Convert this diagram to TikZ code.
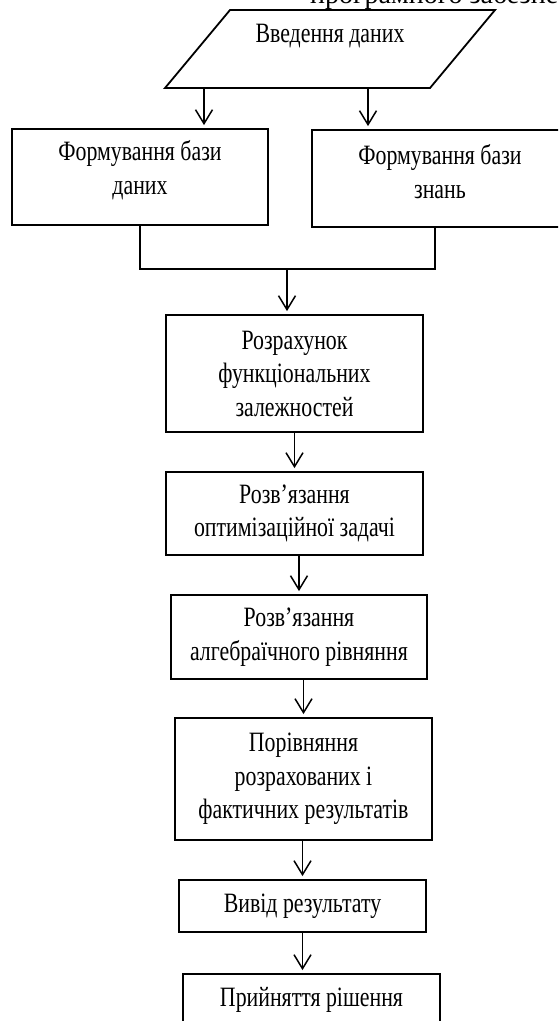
\documentclass[tikz,border=0pt]{standalone}
\usepackage{fontspec}
\setmainfont[FakeStretch=0.78]{Liberation Serif}
\newfontfamily\capfont{Liberation Serif}
\usetikzlibrary{arrows.meta}
\begin{document}
\begin{tikzpicture}[x=1pt,y=-1pt,
  box/.style={draw,line width=1.8pt,inner sep=0pt},
  txt/.style={align=center,font=\fontsize{28}{33.5}\selectfont,inner sep=0pt},
  arr/.style={line width=1.5pt,-{Straight Barb[length=14pt,width=17pt,line width=1.5pt]},shorten >=3pt},
  ln/.style={line width=1.5pt}]
\useasboundingbox (0,0) rectangle (558,1021);
\clip (0,0) rectangle (558,1021);
% cut-off caption at the top
\node[inner sep=0pt,font=\capfont\fontsize{28}{33.5}\selectfont,anchor=base west] (cap) at (310,3) {програмного забезпечення};
% input parallelogram
\coordinate (p1) at (230,10);
\coordinate (p2) at (495,10);
\coordinate (p3) at (430,88);
\coordinate (p4) at (165,88);
\draw[line width=1.8pt,line join=miter] (p1) -- (p2) -- (p3) -- (p4) -- cycle;
\node[txt] (intxt) at (330,36) {Введення даних};
\coordinate (pa) at (204,88);
\coordinate (pb) at (368,88);
% two forming boxes
\node[box,minimum width=256pt,minimum height=96pt] (lbox) at (140,177) {};
\node[txt] (ltxt) at (140,170) {Формування бази\\даних};
\node[box,minimum width=256pt,minimum height=97pt] (rbox) at (440,178.5) {};
\node[txt] (rtxt) at (440,171.5) {Формування бази\\знань};
\draw[arr] (pa) -- (pa |- lbox.north);
\draw[arr] (pb) -- (pb |- rbox.north);
% join
\coordinate (j) at (287,269);
\draw[ln] (lbox.south) |- (j);
\draw[ln] ([xshift=-5pt]rbox.south) |- (j);
% chain
\node[box,txt,minimum width=257pt,minimum height=117pt] (calc) at (294.5,373.5) {Розрахунок\\функціональних\\залежностей};
\node[box,txt,minimum width=257pt,minimum height=83pt] (opt) at (294.5,513.5) {Розв’язання\\оптимізаційної задачі};
\node[box,txt,minimum width=256pt,minimum height=84pt] (alg) at (299,637) {Розв’язання\\алгебраїчного рівняння};
\node[box,txt,minimum width=257pt,minimum height=122pt] (cmp) at (303.5,779) {Порівняння\\розрахованих і\\фактичних результатів};
\node[box,txt,minimum width=247pt,minimum height=52pt] (out) at (302.5,906) {Вивід результату};
\node[box,txt,minimum width=257pt,minimum height=52pt] (dec) at (311.5,1000) {Прийняття рішення};
\draw[arr] (j) -- (j |- calc.north);
\draw[arr] (calc.south) -- (calc.south |- opt.north);
\draw[arr] (opt.south -| alg.north) -- (alg.north);
\draw[arr] (alg.south -| cmp.north) -- (cmp.north);
\draw[arr] (cmp.south -| out.north) -- (out.north);
\draw[arr] (out.south) -- (out.south |- dec.north);
\end{tikzpicture}
\end{document}
